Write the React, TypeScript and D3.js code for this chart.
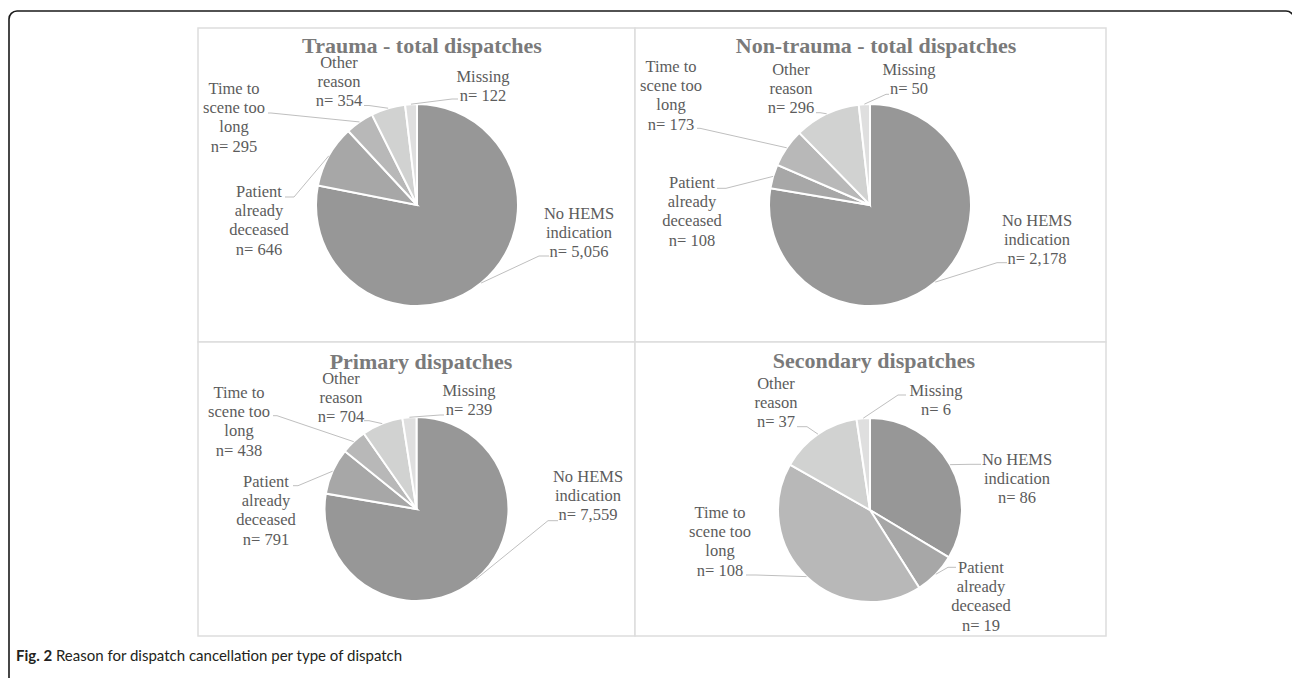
import React from "react";
import * as d3 from "d3";

const categories = [
  "No HEMS indication",
  "Patient already deceased",
  "Time to scene too long",
  "Other reason",
  "Missing",
];
const labelLines = [
  ["No HEMS", "indication"],
  ["Patient", "already", "deceased"],
  ["Time to", "scene too", "long"],
  ["Other", "reason"],
  ["Missing"],
];
const panelTitles = [
  "Trauma - total dispatches",
  "Non-trauma - total dispatches",
  "Primary dispatches",
  "Secondary dispatches",
];
const traumaTotal = [5056, 646, 295, 354, 122];
const nonTraumaTotal = [2178, 108, 173, 296, 50];
const primaryDispatches = [7559, 791, 438, 704, 239];
const secondaryDispatches = [86, 19, 108, 37, 6];
const panelValues = [traumaTotal, nonTraumaTotal, primaryDispatches, secondaryDispatches];

const sliceColors = ["#979797", "#a7a7a7", "#b8b8b8", "#d1d2d1", "#dfdfdf"];

// layout: label positions (centre x, first baseline y) and leader attach points
type LabelPos = { x: number; y: number; ax: number; ay: number; ex: number };
const panels = [
  {
    x: 198, y: 28, w: 437, h: 314, cx: 417, cy: 205, r: 101, tx: 422, ty: 53,
    labels: [
      { x: 579, y: 218.5, ax: 549, ay: 256, ex: 539 },
      { x: 259, y: 197, ax: 285, ay: 197, ex: 294 },
      { x: 234, y: 94, ax: 268, ay: 113, ex: 271 },
      { x: 339, y: 68, ax: 364, ay: 105.5, ex: 369 },
      { x: 483, y: 81.5, ax: 458, ay: 99, ex: 452 },
    ] as LabelPos[],
  },
  {
    x: 635, y: 28, w: 471, h: 314, cx: 870, cy: 205, r: 101, tx: 876, ty: 53,
    labels: [
      { x: 1037, y: 225.5, ax: 1007, ay: 262.7, ex: 997 },
      { x: 692, y: 188, ax: 717, ay: 188.3, ex: 726 },
      { x: 671, y: 72, ax: 697, ay: 128.3, ex: 700 },
      { x: 791, y: 75, ax: 816, ay: 112.7, ex: 820 },
      { x: 909, y: 75, ax: 889, ay: 94.3, ex: 886 },
    ] as LabelPos[],
  },
  {
    x: 198, y: 342, w: 437, h: 294, cx: 416.5, cy: 509, r: 92, tx: 421, ty: 369,
    labels: [
      { x: 588, y: 482, ax: 558, ay: 520.7, ex: 548 },
      { x: 266, y: 487, ax: 293, ay: 485.7, ex: 298 },
      { x: 239, y: 398, ax: 273, ay: 415.7, ex: 277 },
      { x: 341, y: 384, ax: 364, ay: 420.7, ex: 369 },
      { x: 469, y: 395.5, ax: 444, ay: 415, ex: 440 },
    ] as LabelPos[],
  },
  {
    x: 635, y: 342, w: 471, h: 294, cx: 870, cy: 510, r: 92, tx: 874, ty: 368,
    labels: [
      { x: 1017, y: 465, ax: 981, ay: 464.3, ex: 971 },
      { x: 981, y: 573, ax: 956, ay: 567.3, ex: 948 },
      { x: 720, y: 518, ax: 746, ay: 575, ex: 756 },
      { x: 776, y: 389, ax: 797, ay: 426.7, ex: 807 },
      { x: 936, y: 395.5, ax: 906, ay: 395, ex: 898 },
    ] as LabelPos[],
  },
];

const fmt = d3.format(",");
const LINE_H = 19.2;

function Panel({ idx }: { idx: number }) {
  const p = panels[idx];
  const values = panelValues[idx];
  const pie = d3.pie<number>().sort(null).value((d) => d);
  const arcs = pie(values);
  const arc = d3.arc<d3.PieArcDatum<number>>().innerRadius(0).outerRadius(p.r);
  return (
    <g>
      <rect x={p.x} y={p.y} width={p.w} height={p.h} fill="white" stroke="#dddddd" strokeWidth={1.5} />
      <text
        x={p.tx}
        y={p.ty}
        textAnchor="middle"
        fontFamily="'Liberation Serif', 'Times New Roman', serif"
        fontWeight="bold"
        fontSize={22}
        fill="#7a7a7a"
      >
        {panelTitles[idx]}
      </text>
      <g transform={`translate(${p.cx},${p.cy})`}>
        {arcs.map((a, i) => (
          <path key={categories[i]} d={arc(a) || ""} fill={sliceColors[i]} stroke="#ffffff" strokeWidth={2} />
        ))}
      </g>
      {arcs.map((a, i) => {
        const mid = (a.startAngle + a.endAngle) / 2;
        const px = p.cx + p.r * Math.sin(mid);
        const py = p.cy - p.r * Math.cos(mid);
        const l = p.labels[i];
        return (
          <polyline
            key={"leader" + i}
            points={`${l.ax},${l.ay} ${l.ex},${l.ay} ${px},${py}`}
            fill="none"
            stroke="#bfbfbf"
            strokeWidth={1}
          />
        );
      })}
      {arcs.map((a, i) => {
        const l = p.labels[i];
        const lines = [...labelLines[i], "n= " + fmt(values[i])];
        return (
          <text
            key={"label" + i}
            textAnchor="middle"
            fontFamily="'Liberation Serif', 'Times New Roman', serif"
            fontSize={16.5}
            fill="#5c5c5c"
          >
            {lines.map((t, j) => (
              <tspan key={j} x={l.x} y={l.y + j * LINE_H}>
                {t}
              </tspan>
            ))}
          </text>
        );
      })}
    </g>
  );
}

export default function App() {
  return (
    <svg
      width={1292}
      height={678}
      style={{ position: "absolute", left: 0, top: 0, display: "block" }}
    >
      <rect x={0} y={0} width={1292} height={678} fill="white" />
      <rect x={9} y={11} width={1285} height={720} rx={8} ry={8} fill="none" stroke="#1a1a1a" strokeWidth={1.6} />
      {panels.map((_, i) => (
        <Panel key={i} idx={i} />
      ))}
      <text x={16} y={661} fontFamily="Lato, 'Open Sans', sans-serif" fontSize={15} fill="#231f20">
        <tspan fontWeight="bold">Fig. 2</tspan>
        <tspan> Reason for dispatch cancellation per type of dispatch</tspan>
      </text>
    </svg>
  );
}
